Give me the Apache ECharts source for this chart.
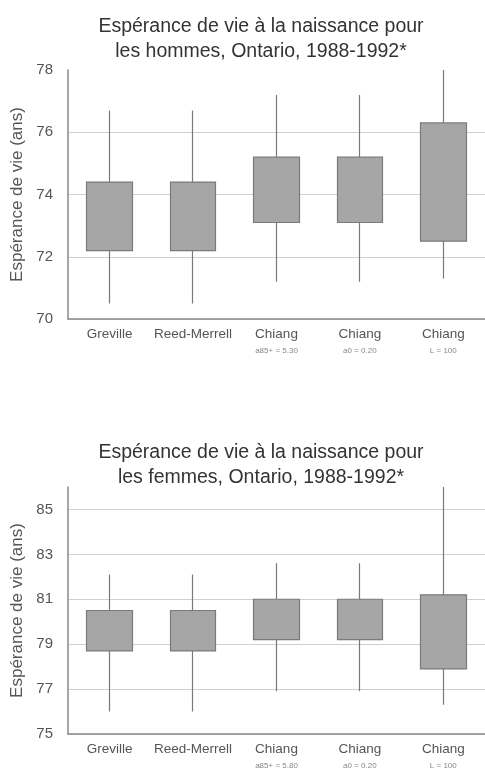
<!DOCTYPE html>
<html>
<head>
<meta charset="utf-8">
<script src="https://cdn.jsdelivr.net/npm/echarts@6/dist/echarts.min.js"></script>
<style>
  html, body { margin: 0; padding: 0; background: #fff; }
  #chart { width: 485px; height: 772px; }
</style>
</head>
<body>
<div id="chart"></div>
<script>
// categories + small sub-labels under the Chiang variants
const methods = ['Greville', 'Reed-Merrell', 'Chiang', 'Chiang', 'Chiang'];
const subMen = ['', '', 'a85+ = 5.30', 'a0 = 0.20', 'L = 100'];
const subWomen = ['', '', 'a85+ = 5.80', 'a0 = 0.20', 'L = 100'];

// [lower, upper, min, max] for each method (years)
const menLow = [72.2, 72.2, 73.1, 73.1, 72.5];
const menHigh = [74.4, 74.4, 75.2, 75.2, 76.3];
const menMin = [70.5, 70.5, 71.2, 71.2, 71.3];
const menMax = [76.7, 76.7, 77.2, 77.2, 78.0];

const womenLow = [78.7, 78.7, 79.2, 79.2, 77.9];
const womenHigh = [80.5, 80.5, 81.0, 81.0, 81.2];
const womenMin = [76.0, 76.0, 76.9, 76.9, 76.3];
const womenMax = [82.1, 82.1, 82.6, 82.6, 86.0];

const titleMen = 'Espérance de vie à la naissance pour\nles hommes, Ontario, 1988-1992*';
const titleWomen = 'Espérance de vie à la naissance pour\nles femmes, Ontario, 1988-1992*';
const yName = 'Espérance de vie (ans)';

const chart = echarts.init(document.getElementById('chart'));

function boxes(low, high, min, max) {
    return low.map((v, i) => [v, high[i], min[i], max[i]]);
}

function xAxisFor(gridIndex, subs) {
    return {
        type: 'category',
        gridIndex,
        data: methods.map((m, i) => m + '|' + subs[i]),
        axisTick: { show: false },
        axisLine: { lineStyle: { color: '#8a8a8a', width: 1.5 } },
        axisLabel: {
            interval: 0,
            margin: 8,
            lineHeight: 15,
            formatter: (v, i) => '{m|' + methods[i] + '}\n{s|' + (subs[i] || ' ') + '}',
            rich: {
                m: { fontSize: 13.5, color: '#555', fontFamily: 'Liberation Sans' },
                s: { fontSize: 8, color: '#888', fontFamily: 'Liberation Sans', padding: [3, 0, 0, 0] }
            }
        }
    };
}

function yAxisFor(gridIndex, min, max, interval) {
    return {
        type: 'value',
        gridIndex,
        min, max, interval,
        name: yName,
        nameLocation: 'middle',
        nameGap: 31,
        nameTextStyle: { fontSize: 17, color: '#555', fontFamily: 'Liberation Sans' },
        axisLine: { show: true, lineStyle: { color: '#8a8a8a', width: 1.5 } },
        axisTick: { show: false },
        axisLabel: { margin: 15, fontSize: 15, color: '#555', fontFamily: 'Liberation Sans', showMaxLabel: max % interval === min % interval },
        splitLine: { showMaxLine: false, lineStyle: { color: '#cfcfcf' } }
    };
}

const boxStyle = {
    color: '#a6a6a6',
    color0: '#a6a6a6',
    borderColor: '#7a7a7a',
    borderColor0: '#7a7a7a',
    borderWidth: 1.2
};

const titleStyle = { fontSize: 19.5, fontWeight: 'normal', color: '#333', lineHeight: 25, fontFamily: 'Liberation Sans' };

const option = {
    animation: false,
    backgroundColor: '#fff',
    title: [
        { text: titleMen, left: 261, top: 14, textAlign: 'center', padding: 0, textStyle: titleStyle },
        { text: titleWomen, left: 261, top: 440, textAlign: 'center', padding: 0, textStyle: titleStyle }
    ],
    grid: [
        { left: 68, top: 70, width: 420, height: 249 },
        { left: 68, top: 487, width: 420, height: 251 }
    ],
    xAxis: [xAxisFor(0, subMen), xAxisFor(1, subWomen)],
    yAxis: [yAxisFor(0, 70, 78, 2), yAxisFor(1, 75, 86, 2)],
    series: [
        {
            type: 'candlestick',
            xAxisIndex: 0, yAxisIndex: 0,
            barWidth: 46,
            clip: false,
            itemStyle: boxStyle,
            data: boxes(menLow, menHigh, menMin, menMax)
        },
        {
            type: 'candlestick',
            xAxisIndex: 1, yAxisIndex: 1,
            barWidth: 46,
            clip: false,
            itemStyle: boxStyle,
            data: boxes(womenLow, womenHigh, womenMin, womenMax)
        }
    ]
};

chart.setOption(option);
</script>
</body>
</html>
